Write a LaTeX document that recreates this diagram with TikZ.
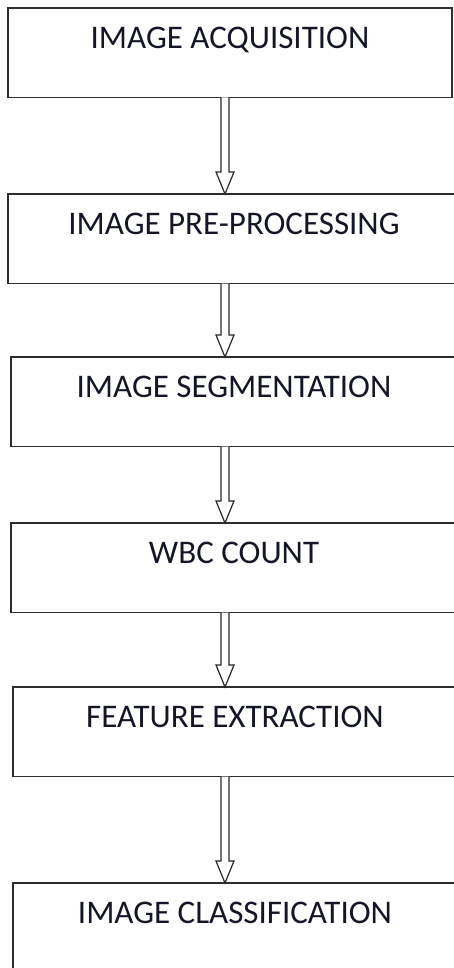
\documentclass[tikz,border=0pt]{standalone}
\usepackage{fontspec}
\setmainfont{Carlito}
\usetikzlibrary{calc}
\definecolor{boxgray}{RGB}{45,45,45}
\definecolor{arrgray}{RGB}{40,40,40}
\definecolor{txt}{RGB}{20,22,40}
\begin{document}
\begin{tikzpicture}[x=1pt,y=-1pt,
  box/.style={draw=boxgray, line width=1.6pt, inner sep=0pt, outer sep=0pt,
    anchor=north west, text height=40.5pt, text depth=49pt,
    font=\fontsize{33}{36}\selectfont, text=txt},
  flowarrow/.style={draw=arrgray, line width=1.2pt, fill=white, line join=miter}]
\useasboundingbox (0,0) rectangle (453,968);
\node[box, minimum width=444pt] (a) at (8,8) {IMAGE ACQUISITION};
\node[box, minimum width=452pt] (b) at (8,194) {IMAGE PRE-PROCESSING};
\node[box, minimum width=446pt] (c) at (11,357) {IMAGE SEGMENTATION};
\node[box, minimum width=446pt] (d) at (11,523) {WBC COUNT};
\node[box, minimum width=444pt] (e) at (13,687) {FEATURE EXTRACTION};
\node[box, minimum width=444pt, text depth=120pt] (f) at (13,883) {IMAGE CLASSIFICATION};
\coordinate (ax) at (225,0);
\foreach \s/\t in {a/b,b/c,c/d,d/e,e/f}{
  \draw[flowarrow] ($(\s.south -| ax)+(-4,0)$) -- ($(\t.north -| ax)+(-4,-22)$)
    -- ++(-5,0) -- (\t.north -| ax) -- ($(\t.north -| ax)+(9,-22)$)
    -- ++(-5,0) -- ($(\s.south -| ax)+(4,0)$);
}
\end{tikzpicture}
\end{document}
